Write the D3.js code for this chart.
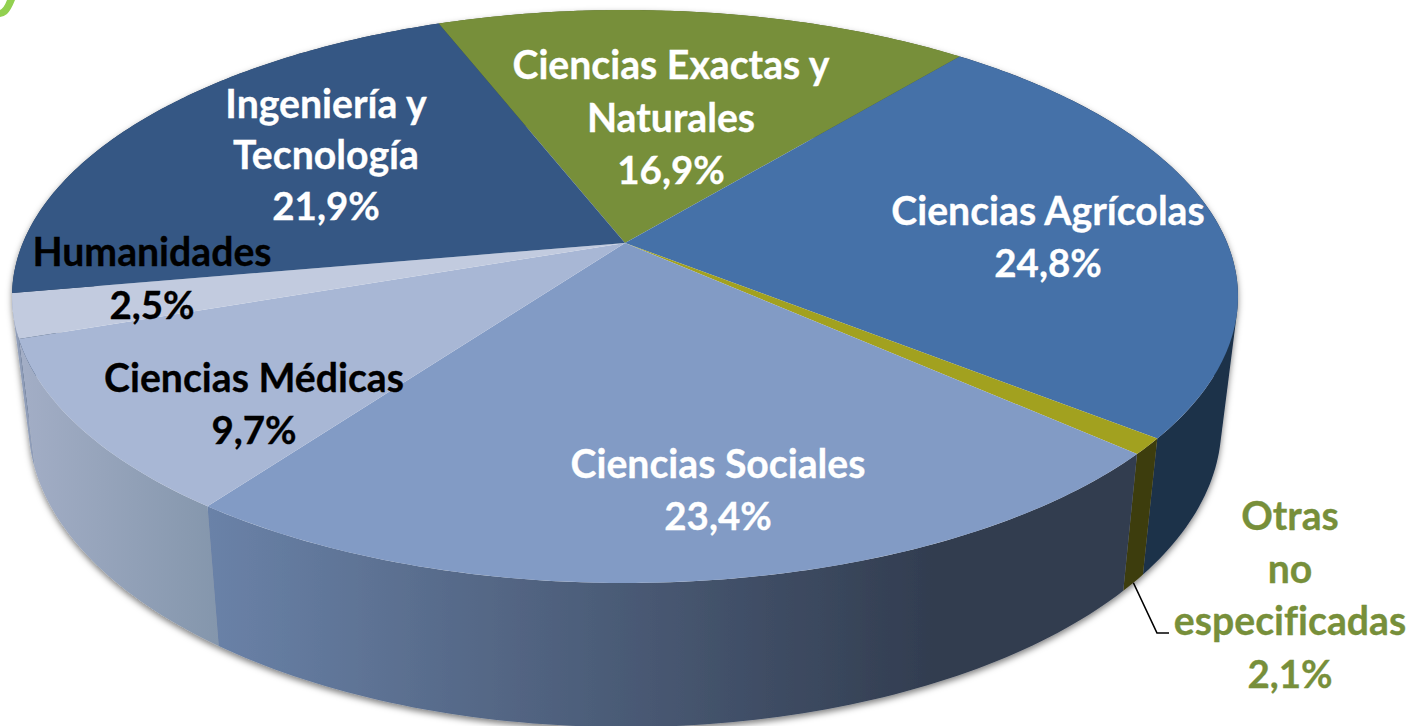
<!DOCTYPE html>
<html lang="es">
<head>
<meta charset="utf-8">
<style>
html,body{margin:0;padding:0;background:#fff;overflow:hidden}
svg{display:block}
text{font-family:Lato,"Open Sans",sans-serif;font-weight:700;text-anchor:middle;font-variant-ligatures:none;font-feature-settings:"liga" 0;paint-order:stroke;stroke-width:0.3}
</style>
<script src="https://cdn.jsdelivr.net/npm/d3@7/dist/d3.min.js"></script>
</head>
<body>
<svg id="chart" width="1412" height="726"></svg>
<script>
const categories = ["Ciencias Exactas y Naturales","Ciencias Agrícolas","Otras no especificadas","Ciencias Sociales","Ciencias Médicas","Humanidades","Ingeniería y Tecnología"];
const shareLabels = ["16,9%","24,8%","2,1%","23,4%","9,7%","2,5%","21,9%"];
// angular share of each slice as drawn in the picture
const sliceValues = [16.9,24.8,0.9,23.4,9.7,2.5,21.9];
const topColors = ["#778f3a","#4571a8","#a2a11f","#829bc5","#a8b7d5","#c2cbdf","#355784"];
const sideColorsLeft = ["#4f6026","#1c304a","#3e3d10","#6a82a8","#a3aec6","#8f9db8","#233a58"];
const sideColorsRight = ["#4f6026","#1c304a","#3e3d10","#323d50","#8496ac","#8f9db8","#233a58"];
const sideFadeEnd = [1,1,1,0.78,1,1,1];
const labelLines = [["Ciencias Exactas y","Naturales","16,9%"],["Ciencias Agrícolas","24,8%"],["Otras","no","especificadas","2,1%"],["Ciencias Sociales","23,4%"],["Ciencias Médicas","9,7%"],["Humanidades","2,5%"],["Ingeniería y","Tecnología","21,9%"]];
const labelColors = ["#fff","#fff","#778f3a","#fff","#000","#000","#fff"];
const labelX = [671,1048,1290,718,254,152,326];
const labelY = [79,225,530,478,392,266,118];
const labelStep = [52.5,52,52.5,52,52,53,51];

const svg = d3.select("#chart");
const defs = svg.append("defs");
const shadow = defs.append("filter").attr("id","rimShadow").attr("x","-5%").attr("y","-5%").attr("width","110%").attr("height","115%");
shadow.append("feDropShadow").attr("dx",0).attr("dy",3).attr("stdDeviation",3.2).attr("flood-color","#000").attr("flood-opacity",0.5);

// perspective of the disc: apex of top face, projected radii, foreshortening
const tilt = 0.1867;
const topFace = {cx:625, cy:243, a:602.2, b:276.5};
const lowFace = {cx:625, cy:368, a:586, b:292};
function project(angle, f){
  const X = Math.sin(angle), Y = -Math.cos(angle), w = 1 - tilt*Y;
  return [f.cx + f.a*X/w, f.cy + f.b*Y/w];
}
const deg = Math.PI/180;
const start = -21.3*deg;
const pie = d3.pie().sort(null).startAngle(start).endAngle(start+2*Math.PI);
const arcs = pie(sliceValues);
const line = d3.line();
const sample = (a0,a1,step) => { const n = Math.max(2,Math.ceil((a1-a0)/(step*deg))); return d3.range(n+1).map(i=>a0+(a1-a0)*i/n); };

// side wall: one path per slice made of same-winding facets, back slices first
const sides = svg.append("g").attr("filter","url(#rimShadow)");
const order = d3.range(arcs.length).sort((i,j)=>
  project((arcs[i].startAngle+arcs[i].endAngle)/2,topFace)[1]-project((arcs[j].startAngle+arcs[j].endAngle)/2,topFace)[1]);
order.forEach(i=>{
  const d = arcs[i], ang = sample(d.startAngle,d.endAngle,1);
  const up = ang.map(a=>project(a,topFace)), low = ang.map(a=>project(a,lowFace));
  const xs = up.concat(low).map(p=>p[0]);
  const grad = defs.append("linearGradient").attr("id","side"+i).attr("gradientUnits","userSpaceOnUse")
    .attr("x1",d3.min(xs)).attr("x2",d3.max(xs)).attr("y1",0).attr("y2",0);
  grad.append("stop").attr("offset",0).attr("stop-color",sideColorsLeft[i]);
  grad.append("stop").attr("offset",sideFadeEnd[i]).attr("stop-color",sideColorsRight[i]);
  const facets = d3.range(ang.length-1).map(k=>{
    const q = [up[k],up[k+1],low[k+1],low[k]];
    if (d3.polygonArea(q) < 0) q.reverse();
    return line(q)+"Z";
  }).join("");
  sides.append("path").attr("d",facets).attr("fill",`url(#side${i})`).attr("fill-rule","nonzero");
});

// top face
svg.append("g").selectAll("path").data(arcs).join("path")
  .attr("d",d=>line([[topFace.cx,topFace.cy]].concat(sample(d.startAngle,d.endAngle,0.5).map(a=>project(a,topFace))))+"Z")
  .attr("fill",(d,i)=>topColors[i]);

// leader line of the small slice
const leaderStart = project((arcs[2].startAngle+arcs[2].endAngle)/2,lowFace);
svg.append("path").attr("d",line([leaderStart,[1157,633],[1169,633]]))
  .attr("fill","none").attr("stroke","#000").attr("stroke-width",1.6);

// labels
const labels = svg.append("g");
labelLines.forEach((lines,i)=>{
  lines.forEach((t,k)=>{
    labels.append("text").attr("x",labelX[i]).attr("y",labelY[i]+k*labelStep[i])
      .attr("font-size",t.endsWith("%")?38.5:39.2)
      .attr("fill",labelColors[i]).attr("stroke",labelColors[i]).text(t);
  });
});

// fragment of the cropped title glyph in the top-left corner
svg.append("path").attr("d","M7,0L15,0Q11,10 7,14Q4,16.5 0,17L0,10Q4,8 7,0Z").attr("fill","#92d050");
</script>
</body>
</html>
